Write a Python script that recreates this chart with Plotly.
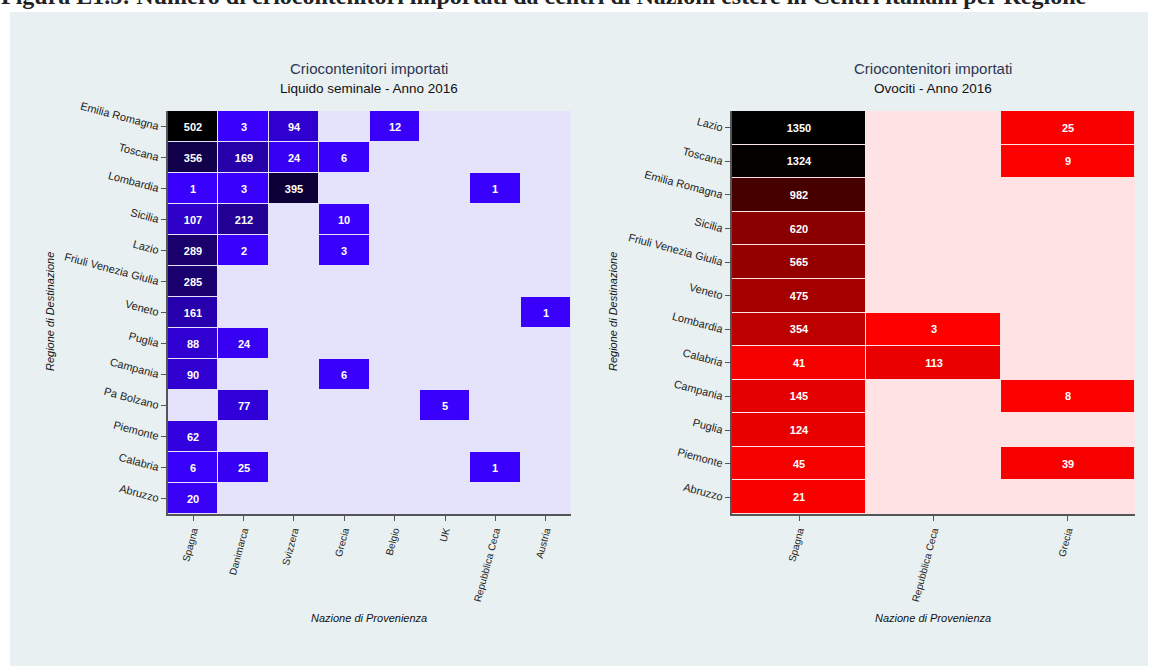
import plotly.graph_objects as go

# ---------------- data ----------------
sem_regions = ["Emilia Romagna", "Toscana", "Lombardia", "Sicilia", "Lazio",
               "Friuli Venezia Giulia", "Veneto", "Puglia", "Campania",
               "Pa Bolzano", "Piemonte", "Calabria", "Abruzzo"]
sem_countries = ["Spagna", "Danimarca", "Svizzera", "Grecia", "Belgio", "UK",
                 "Repubblica Ceca", "Austria"]
sem_spagna = [502, 356, 1, 107, 289, 285, 161, 88, 90, None, 62, 6, 20]
sem_danimarca = [3, 169, 3, 212, 2, None, None, 24, None, 77, None, 25, None]
sem_svizzera = [94, 24, 395, None, None, None, None, None, None, None, None, None, None]
sem_grecia = [None, 6, None, 10, 3, None, None, None, 6, None, None, None, None]
sem_belgio = [12, None, None, None, None, None, None, None, None, None, None, None, None]
sem_uk = [None, None, None, None, None, None, None, None, None, 5, None, None, None]
sem_repceca = [None, None, 1, None, None, None, None, None, None, None, None, 1, None]
sem_austria = [None, None, None, None, None, None, 1, None, None, None, None, None, None]

ovo_regions = ["Lazio", "Toscana", "Emilia Romagna", "Sicilia",
               "Friuli Venezia Giulia", "Veneto", "Lombardia", "Calabria",
               "Campania", "Puglia", "Piemonte", "Abruzzo"]
ovo_countries = ["Spagna", "Repubblica Ceca", "Grecia"]
ovo_spagna = [1350, 1324, 982, 620, 565, 475, 354, 41, 145, 124, 45, 21]
ovo_repceca = [None, None, None, None, None, None, 3, 113, None, None, None, None]
ovo_grecia = [25, 9, None, None, None, None, None, None, 8, None, 39, None]

# ---------------- build matrices ----------------
sem_cols = [sem_spagna, sem_danimarca, sem_svizzera, sem_grecia, sem_belgio,
            sem_uk, sem_repceca, sem_austria]
ovo_cols = [ovo_spagna, ovo_repceca, ovo_grecia]


def to_matrix(cols, nrows):
    z = [[cols[c][r] for c in range(len(cols))] for r in range(nrows)]
    t = [["" if v is None else "<b>%d</b>" % v for v in row] for row in z]
    return z, t


sem_z, sem_t = to_matrix(sem_cols, len(sem_regions))
ovo_z, ovo_t = to_matrix(ovo_cols, len(ovo_regions))

FONT = "Liberation Sans, Arial, Helvetica, sans-serif"

fig = go.Figure()
fig.add_trace(go.Heatmap(
    z=sem_z, x=sem_countries, y=sem_regions, text=sem_t,
    texttemplate="%{text}", textfont=dict(color="white", size=11, family=FONT),
    colorscale=[[0, "#3a00ff"], [1, "#000000"]], zmin=0, zmax=502,
    showscale=False, xgap=1, ygap=1, hoverongaps=False,
    xaxis="x", yaxis="y"))
fig.add_trace(go.Heatmap(
    z=ovo_z, x=ovo_countries, y=ovo_regions, text=ovo_t,
    texttemplate="%{text}", textfont=dict(color="white", size=11, family=FONT),
    colorscale=[[0, "#ff0000"], [1, "#000000"]], zmin=0, zmax=1350,
    showscale=False, xgap=1, ygap=1, hoverongaps=False,
    xaxis="x2", yaxis="y2"))

# pixel geometry helpers
W, H = 1152, 666
L, R, T, B = 168, 1135, 111, 514
pw, ph = R - L, B - T


def px(x):
    return (x - L) / pw


def py(y):
    return (B - y) / ph


d1 = [0, px(571)]
d2 = [px(732), 1]

axis_common = dict(showgrid=False, zeroline=False, showline=True,
                   linecolor="#555555", linewidth=1.5, ticks="outside",
                   ticklen=5, tickcolor="#555555", mirror=False)
xfont = dict(family=FONT, size=10, color="#222222")
yfont = dict(family=FONT, size=11, color="#222222")

fig.update_layout(
    width=W, height=H,
    margin=dict(l=L, r=W - R, t=T, b=H - B),
    paper_bgcolor="white", plot_bgcolor="rgba(0,0,0,0)",
    font=dict(family=FONT),
    xaxis=dict(domain=d1, anchor="y", tickangle=-75, tickfont=xfont, **axis_common),
    yaxis=dict(domain=[0, 1], anchor="x", autorange="reversed", tickangle=15,
               tickfont=yfont, **axis_common),
    xaxis2=dict(domain=d2, anchor="y2", tickangle=-75, tickfont=xfont, **axis_common),
    yaxis2=dict(domain=[0, 1], anchor="x2", autorange="reversed", tickangle=15,
                tickfont=yfont, **axis_common),
)

shapes = [
    dict(type="rect", xref="paper", yref="paper", x0=px(10), x1=px(1148),
         y0=py(666), y1=py(12), fillcolor="#e8f0f1", line=dict(width=0),
         layer="below"),
    dict(type="rect", xref="x domain", yref="y domain", x0=0, x1=1, y0=0, y1=1,
         fillcolor="#e5e2fc", line=dict(width=0), layer="below"),
    dict(type="rect", xref="x2 domain", yref="y2 domain", x0=0, x1=1, y0=0, y1=1,
         fillcolor="#ffe3e4", line=dict(width=0), layer="below"),
]
fig.update_layout(shapes=shapes)

ann = []
# page figure caption (partially cut at top, as in the source)
ann.append(dict(text="<b>Figura E1.5: Numero di criocontenitori importati da centri di Nazioni estere in Centri italiani per Regione</b>",
                xref="paper", yref="paper", x=px(-1), y=py(11), xanchor="left",
                yanchor="bottom", showarrow=False,
                font=dict(family="Liberation Serif, Times New Roman, serif", size=24, color="#222222")))
# subplot titles
for cx, l2 in [(369, "Liquido seminale - Anno 2016"), (933, "Ovociti - Anno 2016")]:
    ann.append(dict(text="Criocontenitori importati", xref="paper", yref="paper",
                    x=px(cx), y=py(69), xanchor="center", yanchor="middle",
                    showarrow=False, font=dict(size=15, color="#2e3550", family=FONT)))
    ann.append(dict(text=l2, xref="paper", yref="paper",
                    x=px(cx), y=py(88), xanchor="center", yanchor="middle",
                    showarrow=False, font=dict(size=13.5, color="#111111", family=FONT)))
# axis titles
for cx in [369, 933]:
    ann.append(dict(text="<i>Nazione di Provenienza</i>", xref="paper", yref="paper",
                    x=px(cx), y=py(618), xanchor="center", yanchor="middle",
                    showarrow=False, font=dict(size=11, color="#111111", family=FONT)))
for cx in [50, 613]:
    ann.append(dict(text="<i>Regione di Destinazione</i>", xref="paper", yref="paper",
                    x=px(cx), y=py(312), xanchor="center", yanchor="middle",
                    textangle=-90, showarrow=False,
                    font=dict(size=11, color="#111111", family=FONT)))
fig.update_layout(annotations=ann)

fig.write_html("out.html", config={"displayModeBar": False},
               post_script="document.body.style.margin='0';")
